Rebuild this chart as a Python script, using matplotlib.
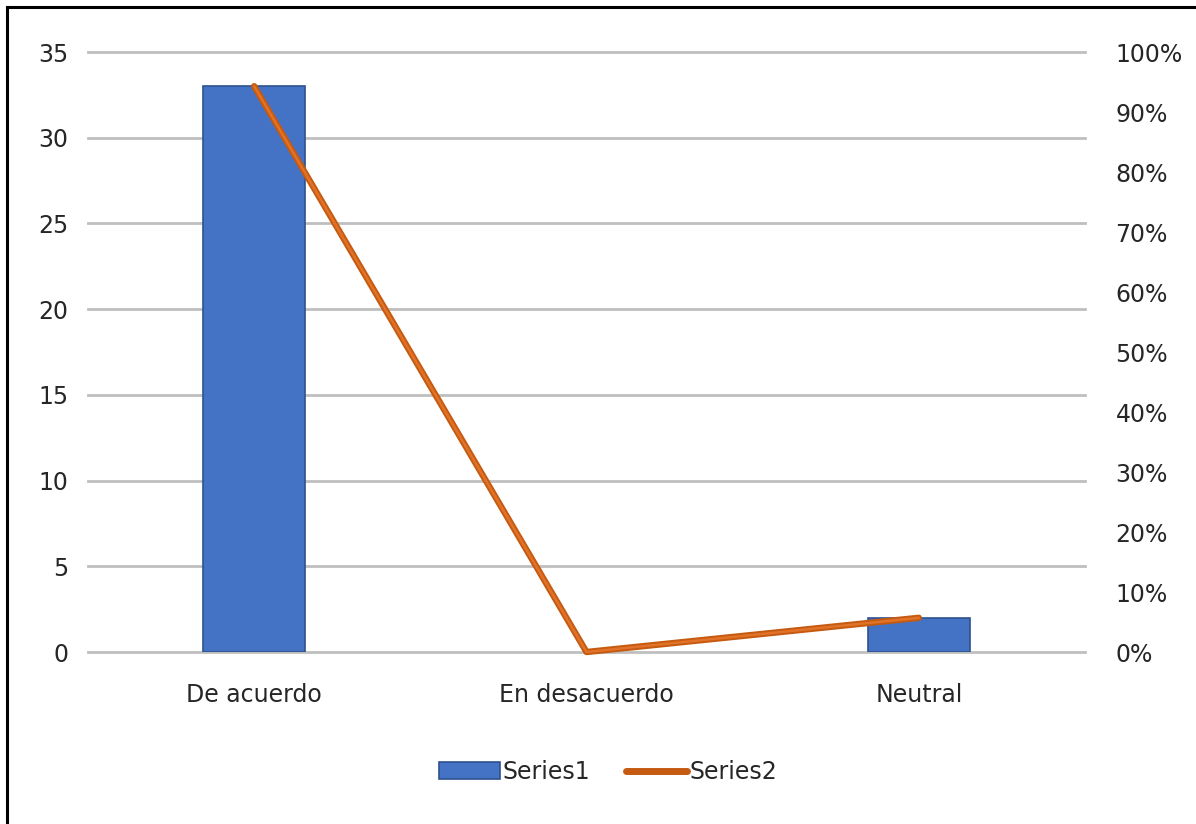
import matplotlib
matplotlib.use("Agg")
import matplotlib.pyplot as plt
from matplotlib.lines import Line2D
from matplotlib.patches import Patch

categories = ["De acuerdo", "En desacuerdo", "Neutral"]
series1 = [33, 0, 2]
series2 = [0.943, 0.0, 0.057]
left_ticks = [0, 5, 10, 15, 20, 25, 30, 35]
right_ticks = [0.0, 0.1, 0.2, 0.3, 0.4, 0.5, 0.6, 0.7, 0.8, 0.9, 1.0]
right_labels = ["0%", "10%", "20%", "30%", "40%", "50%", "60%", "70%", "80%", "90%", "100%"]

plt.rcParams['font.family'] = ['Liberation Sans Narrow', 'DejaVu Sans']
FS = 17
TXT = '#262626'

fig = plt.figure(figsize=(11.96, 8.24), dpi=100)
ax = fig.add_axes([88/1196, 1-652/824, (1085-88)/1196, 600/824])
x = list(range(len(categories)))
bars = ax.bar(x, series1, width=0.307, color='#4472C4', edgecolor='#2F528F', linewidth=1.2, zorder=2)
for b in bars:
    if b.get_height() == 0:
        b.set_linewidth(0)
ax.set_xlim(-0.5, 2.5)
ax.set_ylim(0, 35)
ax.set_yticks(left_ticks)
ax.set_xticks(x)
ax.set_xticklabels(categories)
ax.grid(axis='y', color='#BFBFBF', linewidth=2, zorder=0)
for gl in ax.get_ygridlines():
    gl.set_clip_on(False)
ax.set_axisbelow(True)
for s in ax.spines.values():
    s.set_visible(False)
ax.tick_params(length=0, labelsize=FS, colors=TXT, pad=14)
ax.tick_params(axis='x', pad=22)

ax2 = ax.twinx()
ax2.plot(x, series2, color='#C55A11', linewidth=4.6, solid_capstyle='round', zorder=3, clip_on=False)
ax2.plot(x, series2, color='#ED7D31', linewidth=1.8, solid_capstyle='round', zorder=4, alpha=0.7, clip_on=False)
ax2.set_ylim(0, 1.0)
ax2.set_yticks(right_ticks)
ax2.set_yticklabels(right_labels)
for s in ax2.spines.values():
    s.set_visible(False)
ax2.tick_params(length=0, labelsize=FS, colors=TXT, pad=22)
ax2.set_xlim(-0.5, 2.5)

handles = [Patch(facecolor='#4472C4', edgecolor='#2F528F', linewidth=1.2),
           Line2D([0], [0], color='#C55A11', linewidth=5, solid_capstyle='round')]
fig.legend(handles, ["Series1", "Series2"], loc='center', bbox_to_anchor=(608/1196, 1-772/824),
           ncol=2, frameon=False, fontsize=FS, handlelength=2.6, handletextpad=0.1,
           columnspacing=1.5, labelcolor=TXT)

# outer frame: top and left edges only visible
fig.add_artist(Line2D([7/1196, 7/1196], [0, 1-7/824], color='black', linewidth=2.2, transform=fig.transFigure))
fig.add_artist(Line2D([7/1196, 1], [1-7/824, 1-7/824], color='black', linewidth=2.2, transform=fig.transFigure))

fig.savefig("out.png", dpi=100)
